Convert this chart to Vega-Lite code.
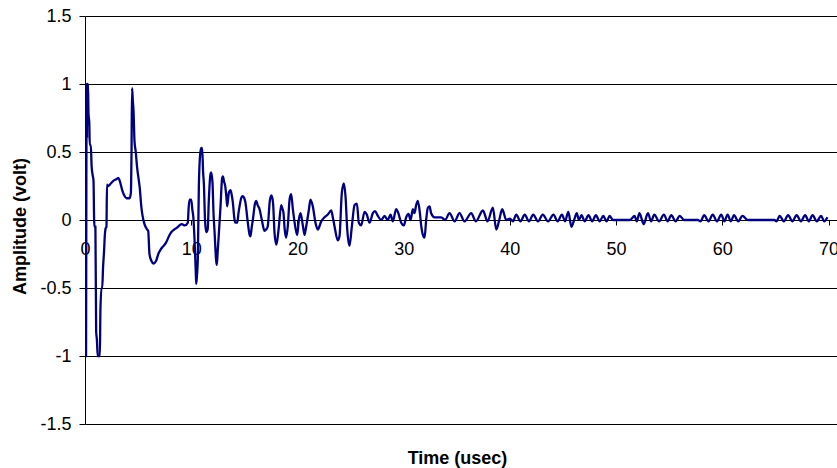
{
  "$schema": "https://vega.github.io/schema/vega-lite/v6.json",
  "width": 752,
  "height": 408,
  "autosize": "none",
  "padding": {"left": 85, "top": 16, "right": 0, "bottom": 44},
  "background": "white",
  "config": {"view": {"stroke": null}, "font": "Liberation Sans"},
  "data": {"values": [
    {"t": 0.00, "v": 0.08}, {"t": 0.02, "v": -1.0}, {"t": 0.04, "v": 0.08}, {"t": 0.06, "v": -1.0},
    {"t": 0.08, "v": 0.05}, {"t": 0.10, "v": -1.0}, {"t": 0.13, "v": 0.3}, {"t": 0.16, "v": 1.0},
    {"t": 0.19, "v": 0.6}, {"t": 0.21, "v": 1.0}, {"t": 0.24, "v": 0.95}, {"t": 0.28, "v": 1.0},
    {"t": 0.33, "v": 0.78}, {"t": 0.40, "v": 0.72}, {"t": 0.45, "v": 0.55}, {"t": 0.55, "v": 0.55},
    {"t": 0.62, "v": 0.40}, {"t": 0.72, "v": 0.33}, {"t": 0.80, "v": 0.29}, {"t": 0.86, "v": 0.0},
    {"t": 0.90, "v": -0.05}, {"t": 0.98, "v": -0.05}, {"t": 1.05, "v": -0.82}, {"t": 1.12, "v": -0.88},
    {"t": 1.20, "v": -1.0}, {"t": 1.40, "v": -1.0}, {"t": 1.45, "v": -0.67}, {"t": 1.55, "v": -0.5},
    {"t": 1.62, "v": -0.5}, {"t": 1.70, "v": -0.35}, {"t": 1.80, "v": -0.22}, {"t": 1.86, "v": -0.12},
    {"t": 1.95, "v": -0.06}, {"t": 2.02, "v": -0.05}, {"t": 2.07, "v": 0.26}, {"t": 2.20, "v": 0.25},
    {"t": 2.45, "v": 0.27}, {"t": 2.70, "v": 0.29}, {"t": 2.95, "v": 0.30}, {"t": 3.15, "v": 0.31},
    {"t": 3.30, "v": 0.28}, {"t": 3.50, "v": 0.22}, {"t": 3.70, "v": 0.18}, {"t": 3.90, "v": 0.16},
    {"t": 4.20, "v": 0.16}, {"t": 4.32, "v": 0.20}, {"t": 4.38, "v": 0.5}, {"t": 4.43, "v": 0.97},
    {"t": 4.50, "v": 0.88}, {"t": 4.57, "v": 0.80}, {"t": 4.66, "v": 0.58}, {"t": 4.78, "v": 0.50},
    {"t": 4.90, "v": 0.39}, {"t": 5.05, "v": 0.30}, {"t": 5.15, "v": 0.24}, {"t": 5.30, "v": 0.10},
    {"t": 5.40, "v": 0.04}, {"t": 5.60, "v": -0.03}, {"t": 5.85, "v": -0.07}, {"t": 5.95, "v": -0.08},
    {"t": 6.07, "v": -0.25}, {"t": 6.25, "v": -0.30}, {"t": 6.45, "v": -0.32}, {"t": 6.70, "v": -0.30},
    {"t": 6.90, "v": -0.25}, {"t": 7.10, "v": -0.22}, {"t": 7.40, "v": -0.19}, {"t": 7.60, "v": -0.17},
    {"t": 7.96, "v": -0.11}, {"t": 8.12, "v": -0.09}, {"t": 8.40, "v": -0.07}, {"t": 8.60, "v": -0.06},
    {"t": 8.90, "v": -0.04}, {"t": 9.10, "v": -0.03}, {"t": 9.40, "v": -0.04}, {"t": 9.68, "v": -0.02},
    {"t": 9.75, "v": 0.08}, {"t": 9.84, "v": 0.15}, {"t": 10.0, "v": 0.15}, {"t": 10.1, "v": 0.08},
    {"t": 10.2, "v": 0.02}, {"t": 10.31, "v": -0.14}, {"t": 10.42, "v": -0.36}, {"t": 10.47, "v": -0.47},
    {"t": 10.55, "v": -0.40}, {"t": 10.62, "v": -0.29}, {"t": 10.72, "v": 0.25}, {"t": 10.85, "v": 0.49},
    {"t": 10.95, "v": 0.53}, {"t": 11.03, "v": 0.53}, {"t": 11.12, "v": 0.35}, {"t": 11.19, "v": 0.27},
    {"t": 11.3, "v": 0.0}, {"t": 11.41, "v": -0.09}, {"t": 11.55, "v": -0.07}, {"t": 11.66, "v": 0.15},
    {"t": 11.8, "v": 0.33}, {"t": 11.88, "v": 0.35}, {"t": 12.0, "v": 0.28}, {"t": 12.1, "v": 0.05},
    {"t": 12.2, "v": -0.09}, {"t": 12.35, "v": -0.30}, {"t": 12.41, "v": -0.33}, {"t": 12.5, "v": -0.22},
    {"t": 12.57, "v": -0.14}, {"t": 12.76, "v": 0.10}, {"t": 12.9, "v": 0.30}, {"t": 12.98, "v": 0.32},
    {"t": 13.1, "v": 0.28}, {"t": 13.2, "v": 0.25}, {"t": 13.3, "v": 0.18}, {"t": 13.39, "v": 0.10},
    {"t": 13.54, "v": 0.20}, {"t": 13.7, "v": 0.22}, {"t": 13.8, "v": 0.19}, {"t": 13.92, "v": 0.13},
    {"t": 14.05, "v": 0.02}, {"t": 14.14, "v": -0.02}, {"t": 14.33, "v": -0.02}, {"t": 14.45, "v": 0.05},
    {"t": 14.55, "v": 0.10}, {"t": 14.75, "v": 0.17}, {"t": 14.86, "v": 0.175}, {"t": 15.0, "v": 0.16},
    {"t": 15.1, "v": 0.13}, {"t": 15.33, "v": -0.02}, {"t": 15.5, "v": -0.11}, {"t": 15.58, "v": -0.12},
    {"t": 15.7, "v": -0.05}, {"t": 15.8, "v": 0.0}, {"t": 16.0, "v": 0.12}, {"t": 16.12, "v": 0.14},
    {"t": 16.25, "v": 0.11}, {"t": 16.43, "v": 0.08}, {"t": 16.65, "v": 0.0}, {"t": 16.9, "v": -0.08},
    {"t": 17.05, "v": -0.07}, {"t": 17.2, "v": -0.05}, {"t": 17.4, "v": 0.14}, {"t": 17.55, "v": 0.18},
    {"t": 17.7, "v": 0.13}, {"t": 17.84, "v": -0.09}, {"t": 18.0, "v": -0.18}, {"t": 18.1, "v": -0.15},
    {"t": 18.25, "v": -0.05}, {"t": 18.47, "v": 0.11}, {"t": 18.6, "v": 0.08}, {"t": 18.69, "v": 0.05},
    {"t": 18.79, "v": -0.06}, {"t": 18.94, "v": -0.13}, {"t": 19.1, "v": -0.04}, {"t": 19.26, "v": 0.15},
    {"t": 19.41, "v": 0.19}, {"t": 19.57, "v": 0.08}, {"t": 19.82, "v": -0.06}, {"t": 19.98, "v": -0.11},
    {"t": 20.13, "v": 0.0}, {"t": 20.29, "v": 0.05}, {"t": 20.51, "v": -0.04}, {"t": 20.67, "v": -0.11},
    {"t": 20.82, "v": -0.05}, {"t": 21.07, "v": 0.07}, {"t": 21.23, "v": 0.15}, {"t": 21.45, "v": 0.10},
    {"t": 21.7, "v": -0.02}, {"t": 21.92, "v": -0.07}, {"t": 22.24, "v": -0.01}, {"t": 22.55, "v": 0.02},
    {"t": 22.86, "v": 0.04}, {"t": 23.18, "v": 0.07}, {"t": 23.33, "v": 0.02}, {"t": 23.5, "v": -0.05},
    {"t": 23.8, "v": -0.15}, {"t": 23.96, "v": -0.12}, {"t": 24.18, "v": 0.20}, {"t": 24.37, "v": 0.27},
    {"t": 24.53, "v": 0.17}, {"t": 24.69, "v": -0.07}, {"t": 24.9, "v": -0.19}, {"t": 25.12, "v": -0.05},
    {"t": 25.38, "v": 0.11}, {"t": 25.6, "v": 0.12}, {"t": 25.78, "v": -0.02}, {"t": 26.0, "v": -0.04},
    {"t": 26.32, "v": 0.06}, {"t": 26.53, "v": 0.04}, {"t": 26.79, "v": -0.02}, {"t": 27.1, "v": 0.05},
    {"t": 27.3, "v": 0.065}, {"t": 27.57, "v": 0.03}, {"t": 27.89, "v": 0.0}, {"t": 28.2, "v": 0.03},
    {"t": 28.5, "v": 0.0}, {"t": 28.77, "v": 0.04}, {"t": 28.98, "v": -0.01}, {"t": 29.3, "v": 0.08},
    {"t": 29.5, "v": 0.05}, {"t": 29.77, "v": -0.02}, {"t": 30.02, "v": -0.04}, {"t": 30.24, "v": 0.02},
    {"t": 30.46, "v": 0.045}, {"t": 30.65, "v": 0.0}, {"t": 30.87, "v": 0.08}, {"t": 31.02, "v": 0.05},
    {"t": 31.18, "v": 0.11}, {"t": 31.34, "v": 0.14}, {"t": 31.53, "v": 0.05}, {"t": 31.65, "v": -0.04},
    {"t": 31.81, "v": -0.11}, {"t": 31.97, "v": -0.13}, {"t": 32.12, "v": 0.0}, {"t": 32.28, "v": 0.09},
    {"t": 32.44, "v": 0.10}, {"t": 32.59, "v": 0.05}, {"t": 32.91, "v": 0.02}, {"t": 33.2, "v": 0.02},
    {"t": 33.54, "v": 0.02}, {"t": 33.9, "v": 0.0}, {"t": 34.32, "v": 0.05}, {"t": 34.8, "v": -0.01},
    {"t": 35.26, "v": 0.05}, {"t": 35.73, "v": -0.01}, {"t": 36.36, "v": 0.05}, {"t": 36.8, "v": -0.01},
    {"t": 37.46, "v": 0.07}, {"t": 37.9, "v": -0.01}, {"t": 38.4, "v": 0.09}, {"t": 38.72, "v": -0.07},
    {"t": 39.0, "v": 0.0}, {"t": 39.28, "v": 0.08}, {"t": 39.66, "v": 0.0}, {"t": 40.0, "v": 0.01},
    {"t": 40.3, "v": -0.01}, {"t": 40.6, "v": 0.04}, {"t": 41.0, "v": -0.01}, {"t": 41.4, "v": 0.04},
    {"t": 41.8, "v": -0.01}, {"t": 42.2, "v": 0.04}, {"t": 42.65, "v": -0.01}, {"t": 43.1, "v": 0.04},
    {"t": 43.6, "v": -0.01}, {"t": 44.1, "v": 0.04}, {"t": 44.5, "v": -0.01}, {"t": 44.9, "v": 0.04},
    {"t": 45.2, "v": -0.01}, {"t": 45.5, "v": 0.06}, {"t": 45.8, "v": -0.05}, {"t": 46.05, "v": 0.0},
    {"t": 46.3, "v": 0.05}, {"t": 46.5, "v": 0.0}, {"t": 46.75, "v": 0.035}, {"t": 47.05, "v": -0.01},
    {"t": 47.4, "v": 0.035}, {"t": 47.75, "v": -0.01}, {"t": 48.1, "v": 0.035}, {"t": 48.45, "v": -0.01},
    {"t": 48.8, "v": 0.03}, {"t": 49.1, "v": -0.01}, {"t": 49.4, "v": 0.03}, {"t": 49.7, "v": 0.0},
    {"t": 50.5, "v": 0.0}, {"t": 51.3, "v": 0.0}, {"t": 51.75, "v": 0.03}, {"t": 51.95, "v": -0.01},
    {"t": 52.2, "v": 0.05}, {"t": 52.6, "v": -0.03}, {"t": 53.0, "v": 0.05}, {"t": 53.3, "v": -0.01},
    {"t": 53.6, "v": 0.04}, {"t": 54.05, "v": -0.01}, {"t": 54.5, "v": 0.04}, {"t": 54.85, "v": -0.01},
    {"t": 55.2, "v": 0.035}, {"t": 55.6, "v": -0.01}, {"t": 56.0, "v": 0.03}, {"t": 56.4, "v": 0.0},
    {"t": 57.7, "v": 0.0}, {"t": 57.95, "v": -0.01}, {"t": 58.3, "v": 0.035}, {"t": 58.7, "v": -0.01},
    {"t": 59.1, "v": 0.04}, {"t": 59.5, "v": -0.01}, {"t": 59.9, "v": 0.04}, {"t": 60.2, "v": -0.01},
    {"t": 60.5, "v": 0.04}, {"t": 60.8, "v": -0.01}, {"t": 61.1, "v": 0.035}, {"t": 61.5, "v": -0.01},
    {"t": 61.9, "v": 0.03}, {"t": 62.4, "v": 0.0}, {"t": 64.9, "v": 0.0}, {"t": 65.1, "v": -0.01},
    {"t": 65.4, "v": 0.03}, {"t": 65.8, "v": -0.01}, {"t": 66.2, "v": 0.035}, {"t": 66.6, "v": -0.01},
    {"t": 67.0, "v": 0.035}, {"t": 67.4, "v": -0.01}, {"t": 67.8, "v": 0.035}, {"t": 68.15, "v": -0.01},
    {"t": 68.5, "v": 0.035}, {"t": 68.9, "v": -0.01}, {"t": 69.3, "v": 0.03}, {"t": 69.6, "v": -0.01},
    {"t": 69.9, "v": 0.02}
  ]},
  "mark": {"type": "line", "color": "#000080", "strokeWidth": 2.3, "interpolate": "monotone", "clip": true},
  "encoding": {
    "x": {
      "field": "t", "type": "quantitative",
      "scale": {"domain": [0, 70.8], "nice": false, "zero": false},
      "axis": {
        "title": "Time (usec)", "values": [0, 10, 20, 30, 40, 50, 60, 70],
        "offset": -204, "grid": false,
        "domainColor": "#000", "tickColor": "#000", "tickSize": 5,
        "labelPadding": 15, "labelFontSize": 18, "labelColor": "#000", "labelFlush": false, "labelOverlap": false,
        "titleFontSize": 18, "titleFontWeight": "bold", "titleColor": "#000",
        "titleX": 372, "titleY": 229, "titleBaseline": "top"
      }
    },
    "y": {
      "field": "v", "type": "quantitative",
      "scale": {"domain": [-1.5, 1.5], "nice": false},
      "axis": {
        "title": "Amplitude (volt)", "values": [-1.5, -1, -0.5, 0, 0.5, 1, 1.5],
        "labelExpr": "'' + datum.value",
        "grid": true, "gridColor": "#000", "gridWidth": 1,
        "domainColor": "#000", "tickColor": "#000", "tickSize": 6,
        "labelPadding": 8, "labelFontSize": 18, "labelColor": "#000",
        "titleFontSize": 18, "titleFontWeight": "bold", "titleColor": "#000",
        "titleX": -65, "titleY": 210, "titleBaseline": "middle", "titleAngle": -90
      }
    }
  }
}
